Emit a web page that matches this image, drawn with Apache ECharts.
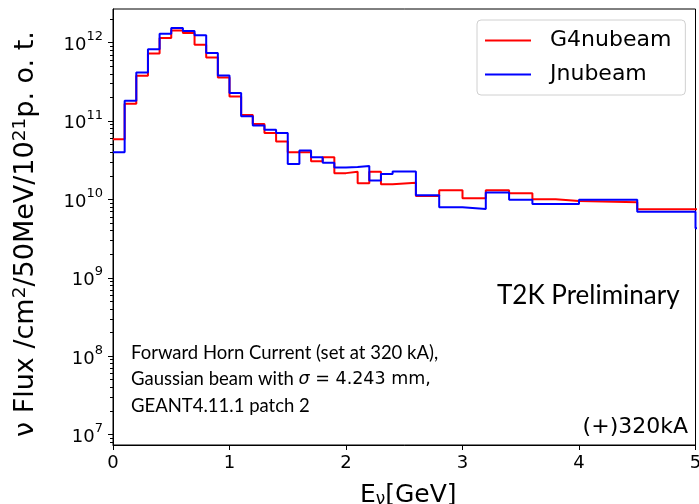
<!DOCTYPE html>
<html><head><meta charset="utf-8">
<script src="https://cdn.jsdelivr.net/npm/echarts@6/dist/echarts.min.js"></script>
<style>html,body{margin:0;padding:0;background:#fff}#c{width:699px;height:504px}</style>
</head><body><div id="c"></div>
<script>
// Bin edges (GeV)
const binEdges = [0,0.1,0.2,0.3,0.4,0.5,0.6,0.7,0.8,0.9,1.0,1.1,1.2,1.3,1.4,1.5,1.6,1.7,1.8,1.9,2.0,2.1,2.2,2.3,2.4,2.6,2.8,3.0,3.2,3.4,3.6,3.8,4.0,4.5,5.0,5.5];
// Flux per bin
const g4nubeam = [5.83e10,1.65e11,3.76e11,7.24e11,1.14e12,1.42e12,1.32e12,9.35e11,6.43e11,3.57e11,2.04e11,1.19e11,9.08e10,6.97e10,5.45e10,3.98e10,3.98e10,3.05e10,3.44e10,2.15e10,2.24e10,1.60e10,2.24e10,1.55e10,1.62e10,1.10e10,1.30e10,1.03e10,1.30e10,1.19e10,1.00e10,9.5e9,9.16e9,7.45e9,7.45e9];
const jnubeam = [3.98e10,1.80e11,4.14e11,8.22e11,1.29e12,1.53e12,1.40e12,1.24e12,7.33e11,3.79e11,2.26e11,1.14e11,8.71e10,7.67e10,6.97e10,2.82e10,4.18e10,3.44e10,2.91e10,2.54e10,2.57e10,2.66e10,1.73e10,2.10e10,2.25e10,1.12e10,7.91e9,7.52e9,1.22e10,9.8e9,8.71e9,8.71e9,9.8e9,6.89e9,4.27e9];
const seriesNames = ['G4nubeam','Jnubeam'];
const xTicks = [0,1,2,3,4,5];
const yDecades = [7,8,9,10,11,12];
const yMin = Math.pow(10, 6.863), yMax = Math.pow(10, 12.427);

function stepPoints(edges, vals){
  const pts=[];
  for(let i=0;i<vals.length;i++){ pts.push([edges[i], vals[i]]); pts.push([edges[i+1], vals[i]]); }
  return pts;
}
// tick positions (major + minor) on the log axis
const yTickMarks = [];
for (let d = 6; d <= 12; d++) {
  for (let k = 1; k <= 9; k++) {
    const v = k * Math.pow(10, d);
    if (v >= yMin && v <= yMax) yTickMarks.push([0, v, k === 1 ? 5 : 3]);
  }
}

const chart = echarts.init(document.getElementById('c'), null, {renderer:'canvas'});
const FONT = 'DejaVu Sans';
const ANN = 'Lato';
chart.setOption({
  animation: false,
  backgroundColor: '#fff',
  grid: {left:113, right:3.5, top:9, bottom:59, show:true, borderColor:'#000', borderWidth:1, containLabel:false, outerBoundsMode:'none'},
  legend: {
    orient:'vertical', left:477, top:20,
    data: seriesNames,
    icon: 'rect', itemWidth: 46, itemHeight: 2, itemGap: 11,
    padding: [9, 14, 9, 8],
    borderColor: '#d0d0d0', borderWidth: 1, borderRadius: 4, backgroundColor:'#fff',
    textStyle: {fontFamily: FONT, fontSize: 22, color:'#000', padding:[0,0,0,14], lineHeight:23}
  },
  xAxis: {
    type:'value', min:0, max:5, interval:1,
    name: '{a|E}{s|ν}{a|[GeV]}', nameLocation:'middle', nameGap:37,
    nameTextStyle: {padding:[0,0,0,8], rich:{a:{fontFamily:FONT,fontSize:25,color:'#000'}, s:{fontFamily:FONT,fontSize:17,color:'#000',verticalAlign:'bottom',padding:[9,0,0,0]}}},
    axisLine:{lineStyle:{color:'#000',width:1}},
    axisTick:{show:true, inside:false, length:5, lineStyle:{color:'#000'}},
    axisLabel:{fontFamily:FONT, fontSize:18, color:'#000', margin:9, formatter: v => xTicks.includes(v) ? String(v) : ''},
    splitLine:{show:false}
  },
  yAxis: {
    type:'log', logBase:10, min:yMin, max:yMax,
    name: '{a|ν Flux /cm}{s|2}{a|/50MeV/10}{s|21}{a|p. o. t.}', nameLocation:'middle', nameGap:72,
    nameTextStyle: {padding:[0,14,0,0], rich:{a:{fontFamily:FONT,fontSize:27,color:'#000'}, s:{fontFamily:FONT,fontSize:18.5,color:'#000',verticalAlign:'top',padding:[0,0,11,0]}}},
    axisLine:{lineStyle:{color:'#000',width:1}},
    axisTick:{show:false},
    axisLabel:{margin:10, formatter: v => {
      const l = Math.log10(v), e = Math.round(l);
      if (Math.abs(l - e) > 1e-3 || !yDecades.includes(e)) return '';
      return '{b|10}{s|' + e + '}';
    }, rich:{b:{fontFamily:FONT,fontSize:18,color:'#000',verticalAlign:'bottom',padding:[6,0,0,0]}, s:{fontFamily:FONT,fontSize:13,color:'#000',verticalAlign:'top',padding:[0,0,8,0]}}},
    splitLine:{show:false}
  },
  series: [
    {name:seriesNames[0], type:'line', data: stepPoints(binEdges, g4nubeam), showSymbol:false, symbol:'none', lineStyle:{color:'#ff0000', width:2}, itemStyle:{color:'#ff0000'}, clip:true, z:3},
    {name:seriesNames[1], type:'line', data: stepPoints(binEdges, jnubeam), showSymbol:false, symbol:'none', lineStyle:{color:'#0000ff', width:2}, itemStyle:{color:'#0000ff'}, clip:true, z:4},
    {type:'custom', silent:true, data: yTickMarks, encode:{x:0,y:1}, clip:false, z:5,
     renderItem: (params, api) => {
       const p = api.coord([api.value(0), api.value(1)]);
       const len = api.value(2);
       return {type:'line', shape:{x1:p[0]-len, y1:Math.round(p[1])+0.5, x2:p[0], y2:Math.round(p[1])+0.5}, style:{stroke:'#000', lineWidth:1}};
     }}
  ],
  graphic: [
    {type:'text', left:497, top:283, style:{text:'T2K Preliminary', fontFamily:ANN, fontSize:26, fill:'#000'}},
    {type:'text', left:131, top:344, style:{text:'Forward Horn Current (set at 320 kA),', fontFamily:ANN, fontSize:18.5, fill:'#000'}},
    {type:'text', left:131, top:370, style:{text:'{a|Gaussian beam with }{m|σ}{n| = 4.243 mm,}', rich:{a:{fontFamily:ANN,fontSize:18.5,fill:'#000'}, m:{fontFamily:FONT,fontStyle:'italic',fontSize:17.5,fill:'#000'}, n:{fontFamily:FONT,fontSize:17.5,fill:'#000'}}}},
    {type:'text', left:131, top:397, style:{text:'GEANT4.11.1 patch 2', fontFamily:ANN, fontSize:18.5, fill:'#000'}},
    {type:'text', right:11, top:416, style:{text:'(+)320kA', fontFamily:FONT, fontSize:22, fill:'#000'}}
  ]
});
</script>
</body></html>
